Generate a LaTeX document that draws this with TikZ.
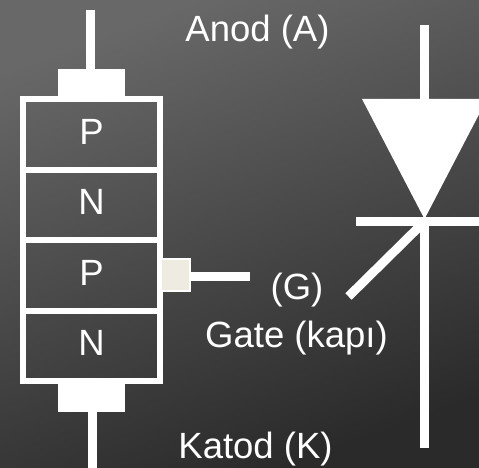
\documentclass[tikz,border=0pt]{standalone}
\usepackage{fontspec}
\setmainfont{Liberation Sans}
\definecolor{GateFill}{HTML}{EEECE1}
\definecolor{BackTop}{HTML}{686868}
\definecolor{BackBottom}{HTML}{2A2A2A}
\usetikzlibrary{positioning}
\tikzset{
  layer/.style={draw=white,line width=6pt,outer sep=0pt,minimum width=137pt,minimum height=70.5pt,inner sep=0pt,text depth=5pt},
  contact/.style={fill=white,outer sep=0pt,minimum width=67pt,inner sep=0pt},
  lead/.style={white,line width=9pt},
  label/.style={white,inner sep=0pt}
}

\begin{document}
\begin{tikzpicture}[x=1pt,y=-1pt,font=\fontsize{36.5}{36.5}\selectfont]
  \useasboundingbox (0,0) rectangle (479,468);
  \clip (0,0) rectangle (479,468);
  \shade[top color=BackTop,bottom color=BackBottom,shading angle=20] (0,0) rectangle (479,468);
  % layered device
  \node[layer,white] (p1) at (91.5,134.25) {P};
  \node[layer,white,below=0pt of p1] (n1) {N};
  \node[layer,white,below=0pt of n1] (p2) {P};
  \node[layer,white,below=0pt of p2] (n2) {N};
  \node[contact,minimum height=30pt,above=0pt of p1] (ctop) {};
  \node[contact,minimum height=31pt,below=0pt of n2] (cbot) {};
  \node[fill=GateFill,draw=white,line width=2pt,outer sep=0pt,minimum width=28.5pt,minimum height=32pt,inner sep=0pt,right=1pt of p2] (cgate) {};
  \coordinate (atop) at (90.5,10);
  \coordinate (kbot) at (92.5,468);
  \coordinate (gend) at (250,276.5);
  \draw[lead] (atop) -- (atop |- ctop.north);
  \draw[lead] (kbot) -- (kbot |- cbot.south);
  \draw[lead] (cgate.east |- gend) -- (gend);
  % thyristor symbol
  \coordinate (sa) at (424.5,25);
  \coordinate (sk) at (424.5,448);
  \coordinate (stl) at (362,99);
  \coordinate (str) at (487,99);
  \coordinate (stip) at (424.5,219);
  \coordinate (sbl) at (356,221.5);
  \coordinate (sbr) at (479,221.5);
  \coordinate (sg) at (348.5,296.5);
  \coordinate (sj) at (422,224);
  \draw[lead] (sa) -- (sa |- stl);
  \fill[white] (stl) -- (str) -- (stip) -- cycle;
  \draw[lead] (sbl) -- (sbr);
  \draw[lead] (sa |- sbr) -- (sk);
  \draw[lead] (sg) -- (sj);
  % labels
  \node[label] (lanod) at (257.5,32) {Anod (A)};
  \node[label] (lg) at (297,290) {(G)};
  \node[label] (lgate) at (296.5,338) {Gate (kapı)};
  \node[label] (lkatod) at (255.5,449.5) {Katod (K)};
\end{tikzpicture}
\end{document}
